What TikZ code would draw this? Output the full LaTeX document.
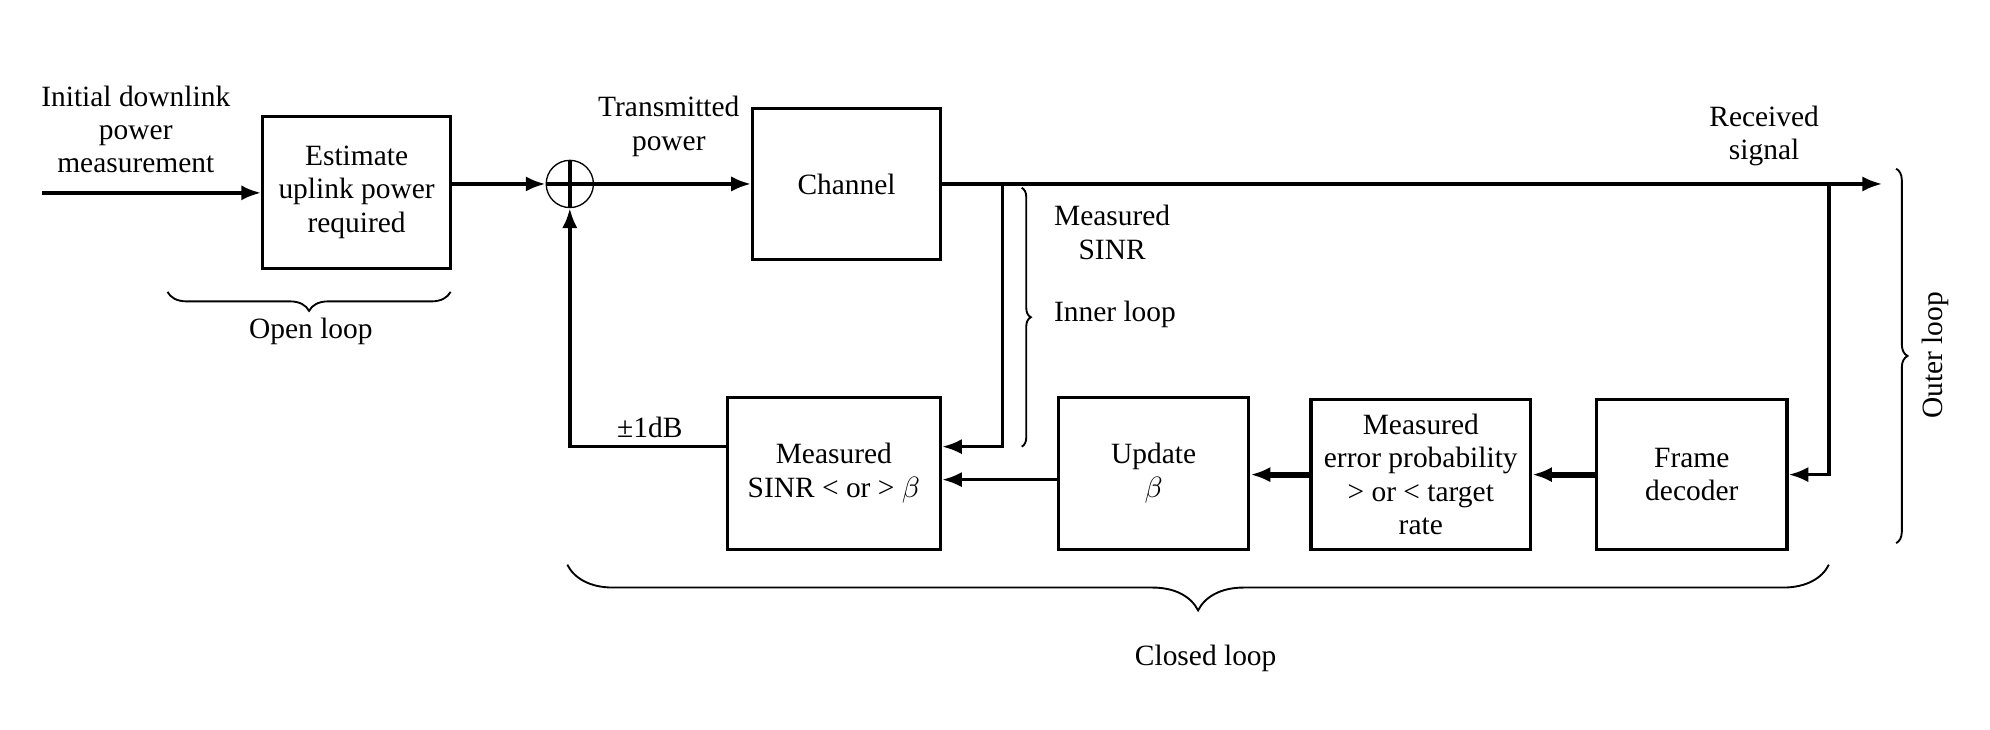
\documentclass[tikz,border=0pt]{standalone}
\usepackage{fontspec}
\setmainfont{Liberation Serif}
\usetikzlibrary{positioning}
\usetikzlibrary{arrows.meta}
\usetikzlibrary{decorations.pathreplacing}

\begin{document}
\begin{tikzpicture}[
    font=\fontsize{11}{12.5}\selectfont,
    type-block/.style={rectangle, draw, line width=1.2pt, minimum height=2cm, align=center, inner sep=2pt},
    type-sum/.style={circle, draw, line width=0.5pt, minimum size=0.62cm, inner sep=0pt},
    type-text/.style={align=center, inner sep=1pt},
    type-wire/.style={line width=1.3pt},
    type-wire-heavy/.style={line width=2.2pt},
    type-brace/.style={decorate, line width=0.7pt},
    >={Latex[length=2.6mm,width=2mm]}
  ]
  \useasboundingbox (0,0) rectangle (26.133,9.583);

  % forward path
  \node[type-block, minimum width=2.467cm] (estimate) at (4.683,7.058) {Estimate\\uplink power\\required};
  \node[type-sum] (sum) at (7.483,7.167) {};
  \node[type-block, minimum width=2.467cm, minimum height=1.983cm] (channel) at (11.117,7.167) {Channel};

  % feedback path
  \node[type-block, minimum width=2.8cm] (sinr) at (10.95,3.367) {Measured\\SINR < or > $\beta$};
  \node[type-block, minimum width=2.5cm] (update) at (15.15,3.367) {Update\\$\beta$};
  \node[type-block, minimum width=2.883cm, minimum height=1.967cm] (error) at (18.658,3.35) {Measured\\error probability\\> or < target\\rate};
  \node[type-block, minimum width=2.5cm, minimum height=1.967cm] (frame) at (22.217,3.35) {Frame\\decoder};

  % labels
  \node[type-text] (initial) at (1.783,7.883) {Initial downlink\\power\\measurement};
  \node[type-text] (transmitted) at (8.783,7.925) {Transmitted\\power};
  \node[type-text] (received) at (23.167,7.8) {Received\\signal};
  \node[type-text, anchor=west] (measured) at (13.8,6.533) {Measured\\SINR};
  \node[type-text, anchor=west] (inner) at (13.8,5.45) {Inner loop};
  \node[type-text] (db) at (8.533,3.967) {±1dB};
  \node[type-text] (open) at (4.083,5.233) {Open loop};
  \node[type-text] (closed) at (15.833,0.933) {Closed loop};
  \node[type-text, rotate=90] (outer) at (25.417,4.917) {Outer loop};

  \coordinate (in) at (0.55,7.05);
  \coordinate (out) at (24.717,7.167);
  \coordinate (tapin) at (13.167,7.167);
  \coordinate (tapout) at (24.017,7.167);

  % connectors
  \draw[type-wire,->] (in) -- (in -| estimate.west);
  \draw[type-wire,->] (estimate.east |- sum) -- (sum.west);
  \draw[type-wire] (sum.west) -- (sum.east) (sum.north) -- (sum.south);
  \draw[type-wire,->] (sum.east) -- (channel.west);
  \draw[type-wire,->] (channel.east) -- (out);
  \draw[type-wire,->] (tapin) |- ([yshift=0.35cm]sinr.east);
  \draw[type-wire,->] ([yshift=0.35cm]sinr.west) -| (sum.south);
  \draw[type-wire,->] ([yshift=-0.083cm]update.west) -- ([yshift=-0.083cm]sinr.east);
  \draw[type-wire-heavy,->] (error.west) -- (update.east |- error.west);
  \draw[type-wire-heavy,->] (frame.west) -- (error.east);
  \draw[type-wire,->] (tapout) |- (frame.east);

  % braces
  \draw[type-brace, decoration={brace, amplitude=0.25cm}] (5.917,5.75) -- (2.2,5.75);
  \draw[type-brace, decoration={brace, amplitude=0.6cm}] (24.017,2.167) -- (7.45,2.167);
  \draw[type-brace, decoration={brace, amplitude=0.12cm}] (13.417,7.117) -- (13.417,3.717);
  \draw[type-brace, decoration={brace, amplitude=0.15cm}] (24.9,7.367) -- (24.9,2.45);
\end{tikzpicture}
\end{document}
